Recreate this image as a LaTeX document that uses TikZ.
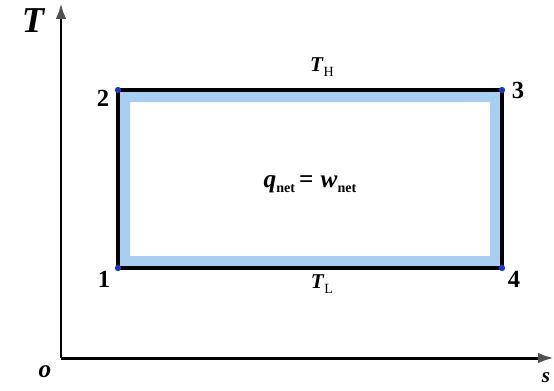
\documentclass[tikz,border=0pt]{standalone}
\usepackage{fontspec}
\setmainfont{Liberation Serif}
\usetikzlibrary{arrows.meta}
\definecolor{cycleblue}{HTML}{A8CEF2}
\definecolor{dotblue}{HTML}{1838C8}
\definecolor{tipgray}{HTML}{505050}
\newcommand{\lowsub}[1]{\raisebox{-0.45ex}{\footnotesize #1}}

\begin{document}
\begin{tikzpicture}[x=0.02cm,y=-0.02cm,>=Latex,
 axis/.style={line width=1.7pt,-{Latex[length=9pt,width=6pt,color=tipgray]}},
 side/.style={line width=1.9pt,black},
 band/.style={fill=cycleblue,even odd rule},
 dot/.style={circle,fill=dotblue,inner sep=0pt,minimum size=3.6pt},
 num/.style={font=\bfseries\fontsize{14}{16}\selectfont},
 lbl/.style={font=\large}]
\useasboundingbox (0,0) rectangle (554,390);
% axes
\coordinate (o) at (61,358);
\coordinate (ttop) at (61,3);
\coordinate (sright) at (554,358);
\draw[axis] (o) -- (ttop);
\draw[axis] (o) -- (sright);
\node[font=\bfseries\itshape\huge] (tlab) at (33,21) {T};
\node[font=\bfseries\itshape\Large] (olab) at (45,372) {o};
\node[font=\bfseries\itshape\large] (slab) at (546,378) {s};
% cycle corners
\coordinate (c1) at (118,268);
\coordinate (c2) at (118,90);
\coordinate (c3) at (502,90);
\coordinate (c4) at (502,268);
\fill[band] (c1) rectangle (c3) (130,256) rectangle (490,102);
\draw[side] (c1) -- (c2) -- (c3) -- (c4) -- cycle;
\foreach \k in {1,...,4} {
 \node[dot] (d\k) at (c\k) {};
}
\node[num] (n1) at (104,279) {1};
\node[num] (n2) at (103,98) {2};
\node[num] (n3) at (518,90) {3};
\node[num] (n4) at (514,279) {4};
\node[lbl] (th) at (322,67) {\textbf{\textit{T}}\lowsub{H}};
\node[lbl] (tl) at (322,284) {\textbf{\textit{T}}\lowsub{L}};
\node[font=\Large] (qw) at (310,184) {\textbf{\textit{q}}\lowsub{\textbf{net}}\,\textbf{=}\;\textbf{\textit{w}}\lowsub{\textbf{net}}};
\end{tikzpicture}
\end{document}
